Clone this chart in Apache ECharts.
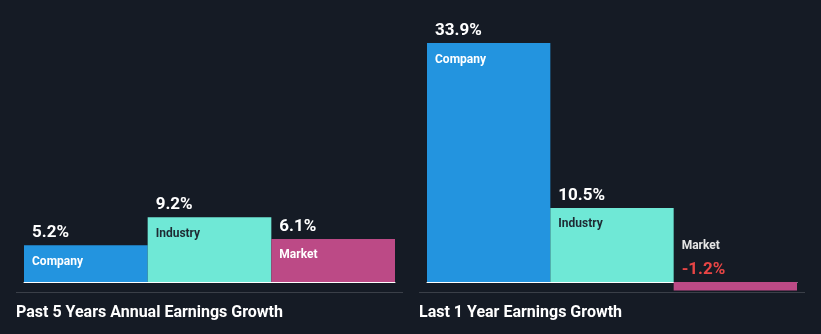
<!DOCTYPE html>
<html>
<head>
<meta charset="utf-8">
<script src="https://cdn.jsdelivr.net/npm/echarts@6/dist/echarts.min.js"></script>
<style>
  html, body { margin: 0; padding: 0; background: #151b25; }
  #chart { width: 821px; height: 334px; }
</style>
</head>
<body>
<div id="chart"></div>
<script>
// Earnings growth comparison: company vs industry vs market
const categories = ['Company', 'Industry', 'Market'];
const past5Years = [5.2, 9.2, 6.1];
const last1Year = [33.9, 10.5, -1.2];
const panelTitles = ['Past 5 Years Annual Earnings Growth', 'Last 1 Year Earnings Growth'];

const barColors = ['#2394df', '#6fe8d6', '#bc4a86'];
const nameColors = ['#ffffff', '#1e2a33', '#ffffff'];
const FONT = 'Roboto, "Open Sans", sans-serif';

function buildItems(values) {
  return values.map((v, i) => {
    const item = {
      value: v,
      name: categories[i],
      itemStyle: { color: barColors[i] }
    };
    if (v >= 0) {
      item.label = {
        position: [8, -27],
        formatter: p => '{v|' + p.value.toFixed(1) + '%}\n{n' + i + '|' + p.name + '}'
      };
    } else {
      // negative bars: name above the baseline, value in red beneath it
      item.label = {
        position: [8, -48],
        formatter: p => '{m|' + p.name + '}\n{r|' + p.value.toFixed(1) + '%}'
      };
    }
    return item;
  });
}

const rich = {
  v: { color: '#ffffff', fontSize: 17, fontWeight: 'bold', fontFamily: FONT, lineHeight: 29 },
  n0: { color: nameColors[0], fontSize: 12, fontWeight: 'bold', fontFamily: FONT, lineHeight: 29 },
  n1: { color: nameColors[1], fontSize: 12, fontWeight: 'bold', fontFamily: FONT, lineHeight: 29 },
  n2: { color: nameColors[2], fontSize: 12, fontWeight: 'bold', fontFamily: FONT, lineHeight: 29 },
  m: { color: '#e6e6e6', fontSize: 12, fontWeight: 'bold', fontFamily: FONT, lineHeight: 24 },
  r: { color: '#e84545', fontSize: 17, fontWeight: 'bold', fontFamily: FONT, lineHeight: 24 }
};

const grids = [
  { left: 24, top: 0, width: 371, height: 310.2 },
  { left: 427, top: 0, width: 370, height: 310.2 }
];

function xAxis(gridIndex) {
  return {
    type: 'category', gridIndex, data: categories,
    axisLine: { show: true, onZero: true, lineStyle: { color: '#ffffff', width: 1 } },
    axisTick: { show: false }, axisLabel: { show: false }, splitLine: { show: false }
  };
}
function yAxis(gridIndex) {
  return {
    type: 'value', gridIndex, min: -4, max: 40,
    axisLine: { show: false }, axisTick: { show: false },
    axisLabel: { show: false }, splitLine: { show: false }
  };
}
function barSeries(idx, values) {
  return {
    type: 'bar', xAxisIndex: idx, yAxisIndex: idx,
    barWidth: '100%', barCategoryGap: 0,
    data: buildItems(values),
    label: { show: true, rich },
    silent: true, animation: false
  };
}

const chart = echarts.init(document.getElementById('chart'), null, { renderer: 'canvas' });
chart.setOption({
  backgroundColor: '#151b25',
  animation: false,
  grid: grids,
  xAxis: [xAxis(0), xAxis(1)],
  yAxis: [yAxis(0), yAxis(1)],
  series: [barSeries(0, past5Years), barSeries(1, last1Year)],
  title: [
    { text: panelTitles[0], left: 16, top: 304.5, padding: 0,
      textStyle: { color: '#ffffff', fontSize: 16, fontWeight: 'bold', fontFamily: FONT } },
    { text: panelTitles[1], left: 419, top: 304.5, padding: 0,
      textStyle: { color: '#ffffff', fontSize: 16, fontWeight: 'bold', fontFamily: FONT } }
  ],
  graphic: [
    { type: 'line', shape: { x1: 16, y1: 292.5, x2: 403, y2: 292.5 },
      style: { stroke: '#3a3f48', lineWidth: 1 }, silent: true },
    { type: 'line', shape: { x1: 419, y1: 292.5, x2: 805, y2: 292.5 },
      style: { stroke: '#3a3f48', lineWidth: 1 }, silent: true, z: -1 }
  ]
});
</script>
</body>
</html>
